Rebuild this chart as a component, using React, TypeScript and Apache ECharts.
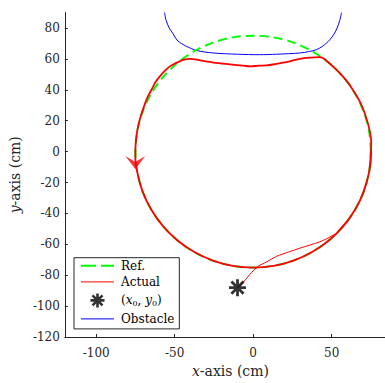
import React, { useEffect, useRef } from 'react';
import * as echarts from 'echarts';

// Reference circle (radius ~75 cm)
const refCircle: number[][] = [
  [75, 0], [73.9, 13.0], [70.5, 25.7], [65.0, 37.5], [57.5, 48.2], [48.2, 57.5],
  [37.5, 65.0], [25.7, 70.5], [13.0, 73.9], [0, 75], [-13.0, 73.9], [-25.7, 70.5],
  [-37.5, 65.0], [-48.2, 57.5], [-57.5, 48.2], [-65.0, 37.5], [-70.5, 25.7], [-73.9, 13.0],
  [-75, 0], [-73.9, -13.0], [-70.5, -25.7], [-65.0, -37.5], [-57.5, -48.2], [-48.2, -57.5],
  [-37.5, -65.0], [-25.7, -70.5], [-13.0, -73.9], [0, -75], [13.0, -73.9], [25.7, -70.5],
  [37.5, -65.0], [48.2, -57.5], [57.5, -48.2], [65.0, -37.5], [70.5, -25.7], [73.9, -13.0],
  [75, 0],
];

// Obstacle boundary (blue)
const obstacle: number[][] = [
  [-56.5, 90], [-55.5, 85], [-53.5, 80], [-51, 76.2], [-48.6, 72.2], [-45.5, 69.8],
  [-42.3, 68], [-35.9, 65.4], [-25.4, 63.8], [-10, 63], [4, 62.7], [15, 63],
  [29.7, 63.8], [36, 64.8], [40.2, 65.9], [44, 68], [46.6, 70.1], [48.7, 72.2],
  [51.5, 76], [53.5, 80], [55.2, 85], [56.3, 90],
];

// Actual trajectory: initial approach from the start point to the circle
const actualStart: number[][] = [
  [-10, -88], [-6.3, -84.6], [-2.1, -79.4], [3.2, -74.2], [8.5, -71.4], [14.8, -67.8],
  [23.3, -64.7], [29.7, -62.5], [36, -60.5], [42.3, -58.4], [47, -56.3], [50.8, -54.1],
  [53, -53],
];

// Actual trajectory: tracking loop (counter-clockwise)
const actualLoop: number[][] = [
  [53.0, -53.0], [61.4, -43.0], [68.0, -31.7], [72.4, -19.4], [74.9, -6.5], [75.2, 6.5],
  [72.8, 19.4], [68.3, 31.7], [61.6, 43.0], [57.5, 48.2], [53.0, 53.0], [48.2, 57.5],
  [44.4, 60.6], [42.3, 61.1], [36, 60.8], [29.7, 60], [24, 58.6], [19, 57.5],
  [14, 56.6], [8.5, 55.8], [4, 55.6], [-2, 55.1], [-6.3, 55.6], [-10.5, 55.9],
  [-14.8, 56.4], [-20, 57], [-25.4, 57.6], [-30, 58.4], [-33.8, 59.1], [-37, 59.7],
  [-40.2, 60], [-43.5, 59.6], [-46.5, 58.5], [-50, 56.9], [-52.9, 55.3], [-56, 52.5],
  [-59.2, 49], [-62, 45.3], [-64.5, 40.6], [-67.7, 34.3], [-70, 28], [-72, 21.7],
  [-73.6, 15], [-74.5, 9], [-75, 3], [-75.1, -3.6], [-73.9, -13.0], [-70.5, -25.7],
  [-65.0, -37.5], [-57.5, -48.2], [-48.2, -57.5], [-37.5, -65.0], [-25.7, -70.5],
  [-13.0, -73.9], [0, -75], [13.0, -73.9], [25.7, -70.5], [37.5, -65.0], [48.2, -57.5],
  [57.5, -48.2], [65.0, -37.5], [70.5, -25.7], [73.9, -13.0], [75, 0],
];

const startPoint: number[][] = [[-10, -88]];
const arrowPoint: number[][] = [[-75.1, -7]];

const xTicks = [-100, -50, 0, 50];
const yTicks = [-120, -100, -80, -60, -40, -20, 0, 20, 40, 60, 80];

const SERIF = "'DejaVu Serif', serif";
const AX = '#262626';
const STAR = 'path://M0,8L16,8M8,0L8,16M2.3,2.3L13.7,13.7M13.7,2.3L2.3,13.7';
const ARROW = 'path://M0,0L10,6L20,0L10,13Z';
const HIDE_SYMBOL = { color: 'transparent', borderColor: 'transparent', borderWidth: 0, opacity: 0 };

export default function App() {
  const ref = useRef<HTMLDivElement>(null);
  useEffect(() => {
    if (!ref.current) return;
    const chart = echarts.init(ref.current, null, { renderer: 'svg' });
    const rich = {
      p: { fontFamily: SERIF, fontSize: 12, color: '#000', lineHeight: 14 },
      i: { fontFamily: SERIF, fontSize: 12, fontStyle: 'italic', color: '#000', lineHeight: 14 },
      s: { fontFamily: SERIF, fontSize: 8, color: '#000', lineHeight: 8, verticalAlign: 'bottom' },
    };
    const nameRich = {
      i: { fontFamily: SERIF, fontSize: 14, fontStyle: 'italic', color: AX },
      n: { fontFamily: SERIF, fontSize: 14, color: AX },
    };
    chart.setOption({
      animation: false,
      backgroundColor: '#fff',
      textStyle: { fontFamily: SERIF },
      grid: { left: 63.5, right: 0, top: 12.5, bottom: 38.7, containLabel: false },
      xAxis: {
        type: 'value', min: -120, max: 84,
        name: '{i|x}{n|-axis (cm)}', nameLocation: 'middle', nameGap: 23,
        nameTextStyle: { fontFamily: SERIF, padding: [0, 0, 0, 11], rich: nameRich },
        axisLine: { show: true, onZero: false, lineStyle: { color: AX, width: 1 } },
        axisTick: { show: true, inside: true, length: 3, customValues: xTicks, lineStyle: { color: AX } },
        axisLabel: { customValues: xTicks, margin: 10, fontFamily: SERIF, fontSize: 12, color: AX },
        splitLine: { show: false },
      },
      yAxis: {
        type: 'value', min: -120, max: 90,
        name: '{i|y}{n|-axis (cm)}', nameLocation: 'middle', nameGap: 37,
        nameTextStyle: { fontFamily: SERIF, rich: nameRich },
        axisLine: { show: true, onZero: false, lineStyle: { color: AX, width: 1 } },
        axisTick: { show: true, inside: true, length: 3, customValues: yTicks, lineStyle: { color: AX } },
        axisLabel: { customValues: yTicks, margin: 5, fontFamily: SERIF, fontSize: 12, color: AX },
        splitLine: { show: false },
      },
      legend: {
        orient: 'vertical', left: 74, top: 257.7,
        padding: [2, 5, 4, 6], itemWidth: 33, itemHeight: 14, itemGap: 4.2,
        backgroundColor: '#fff', borderColor: AX, borderWidth: 1, borderRadius: 0,
        selectedMode: false,
        textStyle: { fontFamily: SERIF, fontSize: 12, color: '#000', padding: [0, 0, 0, 2], rich },
        formatter: (name: string) =>
          name === '(x0, y0)' ? '{p|(}{i|x}{s|0}{p|, }{i|y}{s|0}{p|)}' : '{p|' + name + '}',
        data: [
          { name: 'Ref.', itemStyle: HIDE_SYMBOL, lineStyle: { type: [15, 5], width: 2, color: '#00ff00' } },
          { name: 'Actual', itemStyle: HIDE_SYMBOL, lineStyle: { width: 1, color: '#ff0000' } },
          { name: '(x0, y0)', icon: STAR, itemStyle: { color: 'transparent', borderColor: '#000', borderWidth: 2.6 } },
          { name: 'Obstacle', itemStyle: HIDE_SYMBOL, lineStyle: { width: 1, color: '#0000ff' } },
        ],
      },
      series: [
        {
          name: 'Obstacle', type: 'line', data: obstacle, showSymbol: false, symbol: 'none',
          smooth: 0.3, clip: true, lineStyle: { color: '#0000ff', width: 1 }, itemStyle: { color: '#0000ff' },
        },
        {
          name: 'Ref.', type: 'line', data: refCircle, showSymbol: false, symbol: 'none',
          smooth: 0.3, lineStyle: { color: '#00ff00', width: 2, type: [9, 5] }, itemStyle: { color: '#00ff00' },
        },
        {
          name: 'Actual', type: 'line', data: actualLoop, showSymbol: false, symbol: 'none',
          smooth: 0.3, lineStyle: { color: '#ff0000', width: 1.8 }, itemStyle: { color: '#ff0000' },
        },
        {
          name: 'Actual', type: 'line', data: actualStart, showSymbol: false, symbol: 'none',
          smooth: 0.3, lineStyle: { color: '#ff0000', width: 1 }, itemStyle: { color: '#ff0000' },
        },
        {
          name: '(x0, y0)', type: 'scatter', data: startPoint, symbol: STAR, symbolSize: 17,
          itemStyle: { color: 'transparent', borderColor: '#000', borderWidth: 2.8 }, z: 5,
        },
        {
          name: 'direction', type: 'scatter', data: arrowPoint, symbol: ARROW, symbolSize: [20, 13],
          itemStyle: { color: '#ff0000' }, z: 5,
        },
      ],
    });
    return () => chart.dispose();
  }, []);
  return <div ref={ref} style={{ width: 385, height: 383, position: 'absolute', left: 0, top: 0 }} />;
}
